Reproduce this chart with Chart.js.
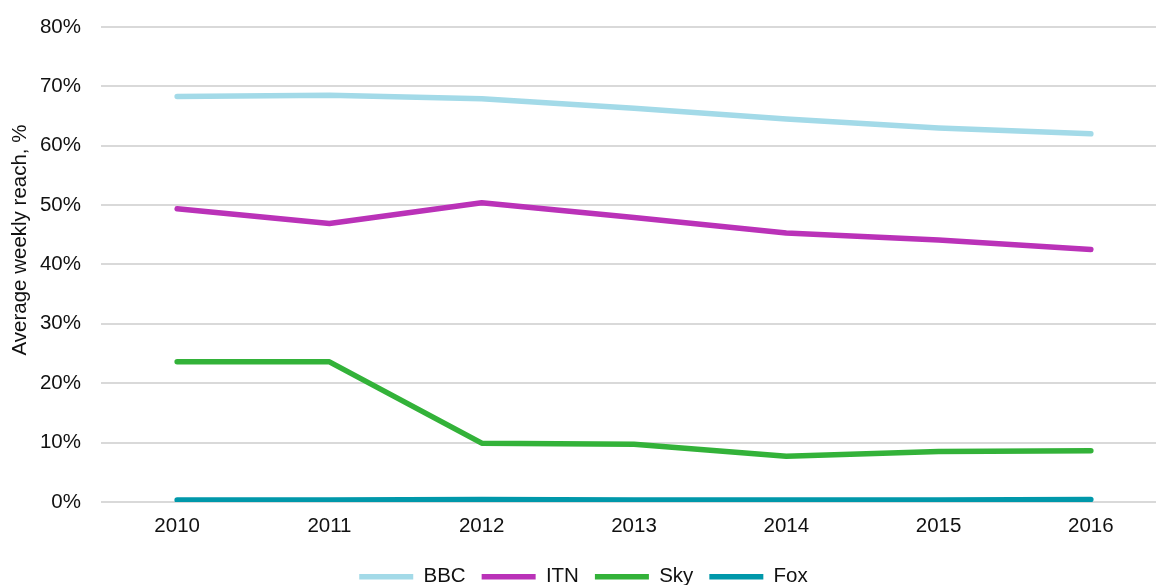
<!DOCTYPE html>
<html>
<head>
<meta charset="utf-8">
<script src="https://cdn.jsdelivr.net/npm/chart.js@4/dist/chart.umd.min.js"></script>
<style>
  html, body { margin: 0; padding: 0; background: #fff; overflow: hidden; }
  #wrap { width: 1180px; height: 597px; }
</style>
</head>
<body>
<div id="wrap"><canvas id="c" width="1180" height="597"></canvas></div>
<script>
const years = ["2010", "2011", "2012", "2013", "2014", "2015", "2016"];
const bbc = [68.3, 68.5, 67.9, 66.3, 64.5, 63.0, 62.0];
const itn = [49.4, 46.9, 50.4, 47.9, 45.3, 44.1, 42.5];
const sky = [23.6, 23.6, 9.9, 9.7, 7.7, 8.5, 8.6];
const fox = [0.3, 0.3, 0.4, 0.3, 0.3, 0.3, 0.4];
const yTicks = [0, 10, 20, 30, 40, 50, 60, 70, 80];
const yTitle = 'Average weekly reach, %';

const FONT = "'Liberation Sans', Arial, sans-serif";
const FS = 20.5;
const TXT = '#111111';

function ds(label, data, color) {
  return {
    label, data,
    borderColor: color, backgroundColor: color,
    borderWidth: 5.5, borderCapStyle: 'round', borderJoinStyle: 'round',
    pointRadius: 0, pointHoverRadius: 0, tension: 0, fill: false,
    pointStyle: 'line'
  };
}

// Y-axis title drawn centred on the whole chart height, as in the reference
const yTitlePlugin = {
  id: 'yTitle',
  afterDraw(chart) {
    const ctx = chart.ctx;
    ctx.save();
    ctx.translate(20, 240);
    ctx.rotate(-Math.PI / 2);
    ctx.font = FS + 'px ' + FONT;
    ctx.fillStyle = TXT;
    ctx.textAlign = 'center';
    ctx.textBaseline = 'middle';
    ctx.fillText(yTitle, 0, 0);
    ctx.restore();
  }
};

new Chart(document.getElementById('c'), {
  type: 'line',
  data: {
    labels: years,
    datasets: [
      ds('BBC', bbc, '#A3DAE8'),
      ds('ITN', itn, '#BA32B8'),
      ds('Sky', sky, '#33B239'),
      ds('Fox', fox, '#0098AA')
    ]
  },
  plugins: [yTitlePlugin],
  options: {
    responsive: false,
    animation: false,
    layout: { padding: { top: 27, left: 0, right: 13, bottom: 0 } },
    plugins: {
      tooltip: { enabled: false },
      legend: {
        position: 'bottom',
        labels: {
          usePointStyle: true,
          pointStyleWidth: 54,
          boxHeight: FS,
          padding: 16,
          color: TXT,
          font: { family: FONT, size: FS }
        }
      }
    },
    scales: {
      x: {
        offset: true,
        grid: { display: false, drawTicks: false },
        border: { display: false },
        ticks: { color: TXT, font: { family: FONT, size: FS }, padding: 12, maxRotation: 0 }
      },
      y: {
        min: 0, max: 80,
        afterBuildTicks: (s) => { s.ticks = yTicks.map(v => ({ value: v })); },
        afterFit: (s) => { s.width = 101; },
        grid: { color: '#D9D9D9', lineWidth: 2, drawTicks: true, tickLength: 16, tickColor: 'rgba(0,0,0,0)' },
        border: { display: false },
        ticks: {
          color: TXT, font: { family: FONT, size: FS }, padding: 4,
          callback: (v) => v + '%'
        },
        title: { display: false }
      }
    }
  }
});
</script>
</body>
</html>
